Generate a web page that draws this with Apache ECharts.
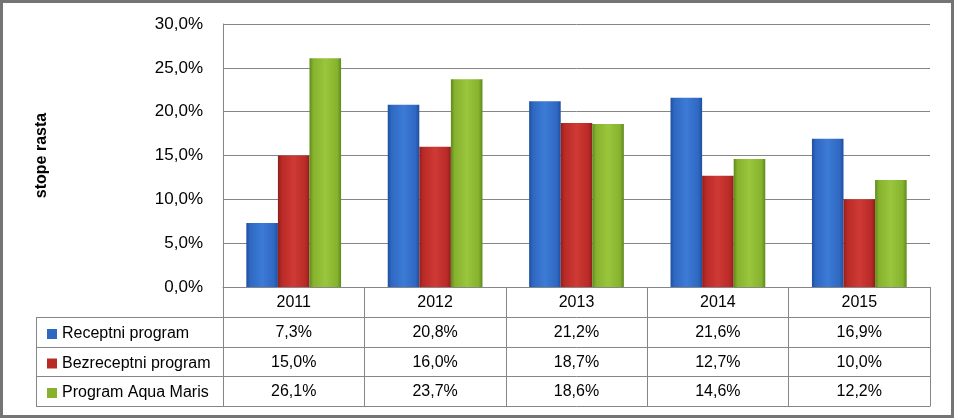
<!DOCTYPE html>
<html>
<head>
<meta charset="utf-8">
<script src="https://cdn.jsdelivr.net/npm/echarts@6/dist/echarts.min.js"></script>
<style>
  html, body { margin: 0; padding: 0; background: #fff; }
  #chart { width: 954px; height: 418px; }
</style>
</head>
<body>
<div id="chart"></div>
<script>
// godine i stope rasta po programu (%)
const years = ["2011", "2012", "2013", "2014", "2015"];
const seriesNames = ["Receptni program", "Bezreceptni program", "Program Aqua Maris"];
const receptni = [7.3, 20.8, 21.2, 21.6, 16.9];
const bezreceptni = [15.0, 16.0, 18.7, 12.7, 10.0];
const aquaMaris = [26.1, 23.7, 18.6, 14.6, 12.2];
const yTicks = [0, 5, 10, 15, 20, 25, 30];

const rows = [receptni, bezreceptni, aquaMaris];
const font = "Liberation Sans";
const lineColor = "#868686";

// pomocna: 7.3 -> "7,3%"
function pct(v) {
  return v.toFixed(1).replace(".", ",") + "%";
}

function bevel(dark, mid, light) {
  return new echarts.graphic.LinearGradient(0, 0, 1, 0, [
    { offset: 0, color: dark },
    { offset: 0.12, color: mid },
    { offset: 0.5, color: light },
    { offset: 0.88, color: mid },
    { offset: 1, color: dark },
  ]);
}
const fills = [
  bevel("#1f4f9e", "#2f68c2", "#3c7bd6"),
  bevel("#8e1f1c", "#b92a27", "#cf3a35"),
  bevel("#5f8a1c", "#86b22e", "#99c63c"),
];
const keyColors = ["#2f68c2", "#b92a27", "#86b22e"];

const chart = echarts.init(document.getElementById("chart"));

// osi tablice podataka ispod grafa
const tableAxes = rows.map((row, k) => ({
  type: "category",
  data: years,
  position: "bottom",
  offset: [30, 60, 89][k],
  axisLine: { show: true, lineStyle: { color: lineColor, width: 1 } },
  axisTick: { show: false },
  axisLabel: {
    margin: 8,
    fontFamily: font,
    fontSize: 16,
    color: "#000",
    formatter: (v, i) => pct(row[i]),
  },
}));

chart.setOption({
  animation: false,
  grid: { left: 223, right: 24, top: 24, bottom: 131, containLabel: false },
  legend: {
    orient: "vertical",
    left: 42,
    top: 319,
    itemGap: 9.5,
    itemWidth: 10,
    itemHeight: 10,
    icon: "rect",
    textStyle: { fontFamily: font, fontSize: 16, color: "#000", lineHeight: 20 },
    data: seriesNames.map((n, i) => ({ name: n, itemStyle: { color: keyColors[i] } })),
  },
  xAxis: [
    {
      type: "category",
      data: years,
      position: "bottom",
      axisLine: { show: true, lineStyle: { color: lineColor, width: 1 } },
      axisTick: { show: true, length: 119, lineStyle: { color: lineColor, width: 1 } },
      axisLabel: { margin: 8, fontFamily: font, fontSize: 16, color: "#000" },
    },
    ...tableAxes,
    {
      type: "category",
      data: years,
      position: "bottom",
      offset: 119,
      axisLine: { show: true, lineStyle: { color: lineColor, width: 1 } },
      axisTick: { show: false },
      axisLabel: { show: false },
    },
  ],
  yAxis: {
    type: "value",
    min: yTicks[0],
    max: yTicks[yTicks.length - 1],
    interval: 5,
    name: "stope rasta",
    nameLocation: "middle",
    nameRotate: 90,
    nameGap: 173,
    nameTextStyle: { fontFamily: font, fontSize: 16, fontWeight: "bold", color: "#000" },
    axisLine: { show: true, lineStyle: { color: lineColor, width: 1 } },
    axisTick: { show: false },
    axisLabel: { margin: 20, fontFamily: font, fontSize: 17, color: "#000", formatter: (v) => pct(v) },
    splitLine: { show: true, lineStyle: { color: lineColor, width: 1 } },
  },
  series: rows.map((row, k) => ({
    name: seriesNames[k],
    type: "bar",
    data: row,
    barGap: "0%",
    barCategoryGap: "33%",
    itemStyle: { color: fills[k] },
  })),
  graphic: [
    // okvir
    { type: "rect", shape: { x: 1.5, y: 1.5, width: 951, height: 415 }, style: { fill: null, stroke: "#747474", lineWidth: 3 }, silent: true },
    // lijevi stupac tablice
    { type: "line", shape: { x1: 36.5, y1: 317, x2: 36.5, y2: 406 }, style: { stroke: lineColor, lineWidth: 1 } },
    { type: "line", shape: { x1: 36, y1: 317.5, x2: 223, y2: 317.5 }, style: { stroke: lineColor, lineWidth: 1 } },
    { type: "line", shape: { x1: 36, y1: 347.5, x2: 223, y2: 347.5 }, style: { stroke: lineColor, lineWidth: 1 } },
    { type: "line", shape: { x1: 36, y1: 376.5, x2: 223, y2: 376.5 }, style: { stroke: lineColor, lineWidth: 1 } },
    { type: "line", shape: { x1: 36, y1: 406.5, x2: 223, y2: 406.5 }, style: { stroke: lineColor, lineWidth: 1 } },
  ],
});
</script>
</body>
</html>
